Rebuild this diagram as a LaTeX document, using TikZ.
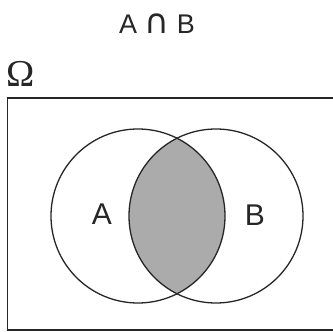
\documentclass[tikz,border=0pt]{standalone}
\usepackage{fontspec}
\setsansfont{Liberation Sans}
\newfontfamily\omegafont{Liberation Serif}
\newfontfamily\capfont{DejaVu Sans}
\usepackage{tikz}
\usetikzlibrary{positioning}
\definecolor{inkline}{HTML}{262626}
\definecolor{lensgrey}{HTML}{ABABAB}
\tikzset{
  setline/.style={draw=inkline, line width=1.3pt},
  framebox/.style={draw=inkline, line width=1.1pt},
  setlabel/.style={font=\sffamily\fontsize{30}{34}\selectfont, text=inkline, inner sep=0pt},
  titlelabel/.style={font=\sffamily\fontsize{27}{30}\selectfont, text=inkline, inner sep=0pt},
  spacelabel/.style={font=\omegafont\fontsize{38}{42}\selectfont, text=inkline, inner sep=0pt},
}

\begin{document}
\begin{tikzpicture}[x=1pt, y=-1pt]
  \path[clip] (0,0) rectangle (333,332);
  \fill[white] (0,0) rectangle (333,332);
  % sample space
  \draw[framebox] (7.5,98) rectangle (345,330);
  % intersection
  \begin{scope}
    \clip (138,216) circle (87);
    \fill[lensgrey] (216,216) circle (87);
  \end{scope}
  \draw[setline] (138,216) circle (87);
  \draw[setline] (216,216) circle (87);
  \node[titlelabel] (title) at (157,24) {A {\capfont\fontsize{34}{34}\selectfont ∩} B};
  \node[spacelabel] (omega) at (21,74) {Ω};
  \node[setlabel] (seta) at (102,214) {A};
  \node[setlabel] (setb) at (255,215) {B};
\end{tikzpicture}
\end{document}
